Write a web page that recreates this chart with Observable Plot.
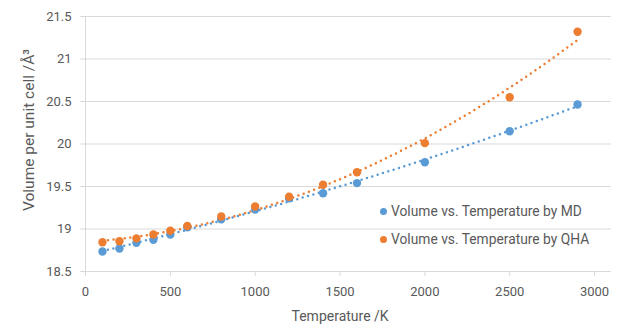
<!DOCTYPE html>
<html>
<head>
<meta charset="utf-8">
<script src="https://cdn.jsdelivr.net/npm/d3@7"></script>
<script src="https://cdn.jsdelivr.net/npm/@observablehq/plot@0.6"></script>
<style>
  html, body { margin: 0; padding: 0; background: #fff; }
  #wrap { position: relative; width: 619px; height: 333px; font-family: Roboto, "Liberation Sans", sans-serif; color: #595959; }
  #wrap svg { position: absolute; left: 0; top: 0; }
  .lab { position: absolute; white-space: nowrap; font-size: 14px; color: #595959; }
  .leg { position: absolute; white-space: nowrap; font-size: 13.8px; color: #595959; line-height: 16px; }
  .leg span.m { display: inline-block; width: 7px; height: 7px; border-radius: 50%; margin-right: 4px; vertical-align: 1px; }
</style>
</head>
<body>
<div id="wrap"></div>
<script>
// Data
const temperatures = [100, 200, 300, 400, 500, 600, 800, 1000, 1200, 1400, 1600, 2000, 2500, 2900];
const volumeMD  = [18.735, 18.77, 18.838, 18.873, 18.935, 19.02, 19.115, 19.23, 19.36, 19.42, 19.54, 19.786, 20.15, 20.465];
const volumeQHA = [18.845, 18.856, 18.89, 18.935, 18.98, 19.035, 19.147, 19.265, 19.379, 19.52, 19.668, 20.01, 20.55, 21.32];
const seriesNames = ["Volume vs. Temperature by MD", "Volume vs. Temperature by QHA"];
const seriesColors = ["#5B9BD5", "#ED7D31"];
const xTicks = [0, 500, 1000, 1500, 2000, 2500, 3000];
const yTicks = [18.5, 19, 19.5, 20, 20.5, 21, 21.5];
const xTitle = "Temperature /K";
const yTitle = "Volume per unit cell /Å³";

// Polynomial (order 2) least-squares trendline, as in the original spreadsheet chart
function polyfit(xs, ys, deg) {
  const n = deg + 1;
  const A = Array.from({length: n}, () => new Array(n + 1).fill(0));
  xs.forEach((x0, k) => {
    const x = x0 / 1000;
    for (let i = 0; i < n; i++) {
      for (let j = 0; j < n; j++) A[i][j] += Math.pow(x, i + j);
      A[i][n] += ys[k] * Math.pow(x, i);
    }
  });
  for (let c = 0; c < n; c++) {
    let p = c;
    for (let r = c + 1; r < n; r++) if (Math.abs(A[r][c]) > Math.abs(A[p][c])) p = r;
    [A[c], A[p]] = [A[p], A[c]];
    for (let r = 0; r < n; r++) {
      if (r === c) continue;
      const f = A[r][c] / A[c][c];
      for (let k = c; k <= n; k++) A[r][k] -= f * A[c][k];
    }
  }
  const coef = A.map((row, i) => row[n] / row[i]);
  return x => coef.reduce((s, c, i) => s + c * Math.pow(x / 1000, i), 0);
}

const points = [];
const trends = [];
[volumeMD, volumeQHA].forEach((vals, si) => {
  temperatures.forEach((t, i) => points.push({t, v: vals[i], s: seriesNames[si]}));
  const f = polyfit(temperatures, vals, 2);
  const t0 = d3.min(temperatures), t1 = d3.max(temperatures);
  d3.range(t0, t1 + 1, 10).forEach(t => trends.push({t, v: f(t), s: seriesNames[si]}));
});

const chart = Plot.plot({
  width: 619,
  height: 333,
  marginLeft: 85,
  marginRight: 8,
  marginTop: 16,
  marginBottom: 62,
  style: {fontFamily: "Roboto, 'Liberation Sans', sans-serif", fontSize: "13px", color: "#595959", background: "transparent"},
  x: {domain: [0, 3100], ticks: xTicks, tickFormat: d => String(d), label: null},
  y: {domain: [yTicks[0], yTicks[yTicks.length - 1]], ticks: yTicks, tickFormat: d => String(d), label: null},
  color: {domain: seriesNames, range: seriesColors},
  marks: [
    Plot.gridY(yTicks.slice(1), {stroke: "#D9D9D9", strokeOpacity: 1, strokeWidth: 1}),
    Plot.ruleY([yTicks[0]], {stroke: "#D9D9D9", strokeWidth: 1}),
    Plot.ruleX([xTicks[0]], {stroke: "#D9D9D9", strokeWidth: 1}),
    Plot.axisX(xTicks, {tickSize: 5, tickPadding: 10, stroke: "#D9D9D9", fill: "#595959", label: null, tickFormat: d => String(d)}),
    Plot.axisY(yTicks, {tickSize: 5, tickPadding: 9, stroke: "#D9D9D9", fill: "#595959", label: null, tickFormat: d => String(d)}),
    Plot.line(trends, {x: "t", y: "v", z: "s", stroke: "s", strokeWidth: 2.5, strokeDasharray: "0,5.6", strokeLinecap: "round"}),
    Plot.dot(points, {x: "t", y: "v", fill: "s", r: 4.2})
  ]
});

const wrap = document.getElementById("wrap");
wrap.appendChild(chart);

// Axis titles
const xt = document.createElement("div");
xt.className = "lab";
xt.textContent = xTitle;
wrap.appendChild(xt);
xt.style.left = (340 - xt.offsetWidth / 2) + "px";
xt.style.top = (316 - xt.offsetHeight / 2) + "px";

const yt = document.createElement("div");
yt.className = "lab";
yt.style.fontSize = "15.5px";
yt.textContent = yTitle;
wrap.appendChild(yt);
const w = yt.offsetWidth, h = yt.offsetHeight;
yt.style.left = (29 - w / 2) + "px";
yt.style.top = (130 - h / 2) + "px";
yt.style.transform = "rotate(-90deg)";

// Legend
seriesNames.forEach((name, i) => {
  const d = document.createElement("div");
  d.className = "leg";
  d.innerHTML = `<span class="m" style="background:${seriesColors[i]}"></span>`;
  d.appendChild(document.createTextNode(name));
  d.style.left = "380px";
  d.style.top = (211 + i * 28 - 8) + "px";
  wrap.appendChild(d);
});
</script>
</body>
</html>
